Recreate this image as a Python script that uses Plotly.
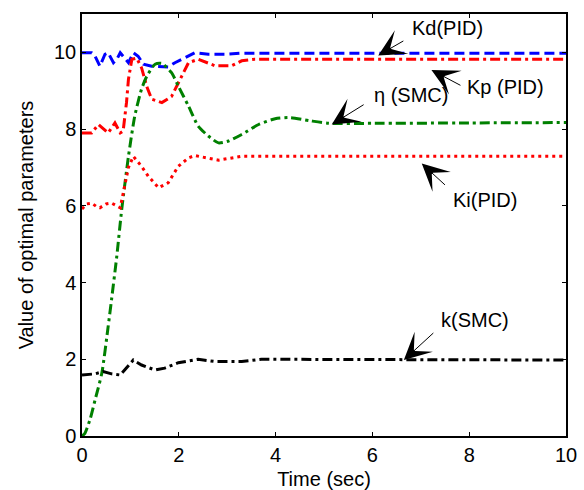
import plotly.graph_objects as go

# ---- data ----
t_kd = [0, 0.20, 0.27, 0.37, 0.475, 0.54, 0.65, 0.72, 0.79, 0.89, 0.96, 1.06, 1.16, 1.27, 1.44, 1.78, 1.92, 2.13, 2.33, 2.61, 2.95, 3.30, 4.0, 10]
kd = [9.99, 9.99, 9.90, 9.64, 9.95, 9.99, 9.73, 9.82, 9.99, 9.82, 9.73, 9.99, 9.90, 9.69, 9.64, 9.62, 9.73, 9.86, 9.99, 9.95, 9.95, 9.98, 9.98, 9.98]

t_kp = [0, 0.20, 0.34, 0.44, 0.54, 0.68, 0.79, 0.85, 0.92, 0.96, 1.03, 1.13, 1.23, 1.34, 1.44, 1.65, 1.85, 1.99, 2.20, 2.40, 2.75, 3.09, 3.30, 3.57, 10]
kp = [7.90, 7.90, 8.12, 8.00, 7.90, 8.16, 7.90, 7.95, 8.70, 9.30, 9.82, 9.85, 9.60, 9.10, 8.78, 8.69, 8.85, 9.20, 9.73, 9.82, 9.65, 9.65, 9.78, 9.82, 9.82]

t_eta = [0, 0.06, 0.17, 0.27, 0.41, 0.54, 0.61, 0.72, 0.82, 0.96, 1.09, 1.23, 1.34, 1.51, 1.65, 1.85, 1.99, 2.20, 2.40, 2.61, 2.82, 3.03, 3.30, 3.65, 3.99, 4.30, 4.70, 5.10, 6.00, 8.00, 10]
eta = [0, 0.07, 0.45, 0.94, 1.64, 2.85, 3.55, 4.70, 5.90, 7.29, 8.34, 9.04, 9.38, 9.69, 9.71, 9.47, 9.12, 8.60, 8.08, 7.82, 7.64, 7.69, 7.86, 8.12, 8.27, 8.30, 8.22, 8.15, 8.15, 8.16, 8.17]

t_ki = [0, 0.10, 0.20, 0.30, 0.37, 0.50, 0.61, 0.72, 0.79, 0.96, 1.06, 1.23, 1.37, 1.58, 1.78, 1.99, 2.20, 2.33, 2.82, 3.30, 10]
ki = [5.92, 6.05, 6.07, 5.98, 5.95, 6.05, 6.07, 6.00, 5.95, 7.00, 7.29, 7.03, 6.77, 6.47, 6.60, 7.03, 7.25, 7.31, 7.19, 7.29, 7.29]

t_k = [0, 0.27, 0.44, 0.61, 0.79, 0.92, 1.06, 1.23, 1.51, 1.71, 1.99, 2.40, 2.75, 3.30, 3.71, 10]
k = [1.59, 1.62, 1.68, 1.62, 1.59, 1.77, 1.98, 1.85, 1.72, 1.77, 1.91, 2.00, 1.94, 1.94, 2.00, 1.98]

x_ticks = [0, 2, 4, 6, 8, 10]
y_ticks = [0, 2, 4, 6, 8, 10]

# annotation labels: (text, text_x, text_y, head_x, head_y, tail_x, tail_y)
labels = [
    ("Kd(PID)", 7.55, 10.63, 6.12, 9.92, 6.67, 10.32),
    ("Kp (PID)", 8.76, 9.11, 7.22, 9.54, 7.85, 9.12),
    ("\u03b7 (SMC)", 6.80, 8.89, 5.16, 8.12, 5.85, 8.66),
    ("Ki(PID)", 8.33, 6.14, 7.02, 7.10, 7.53, 6.51),
    ("k(SMC)", 8.13, 3.03, 6.65, 1.98, 7.29, 2.72),
]

FONT = "Liberation Sans, Arial, sans-serif"

fig = go.Figure()
fig.add_trace(go.Scatter(x=t_kd, y=kd, mode="lines", name="Kd(PID)",
                         line=dict(color="#0000FF", width=3, dash="10px,5px")))
fig.add_trace(go.Scatter(x=t_kp, y=kp, mode="lines", name="Kp(PID)",
                         line=dict(color="#FF0000", width=3, dash="10px,4px,3px,4px")))
fig.add_trace(go.Scatter(x=t_eta, y=eta, mode="lines", name="eta(SMC)",
                         line=dict(color="#008000", width=3, dash="10px,4px,3px,4px", shape="spline", smoothing=0.6)))
fig.add_trace(go.Scatter(x=t_ki, y=ki, mode="lines", name="Ki(PID)",
                         line=dict(color="#FF0000", width=3, dash="3px,4px")))
fig.add_trace(go.Scatter(x=t_k, y=k, mode="lines", name="k(SMC)",
                         line=dict(color="#000000", width=3, dash="10px,4px,3px,4px")))

for text, tx, ty, hx, hy, ax, ay in labels:
    fig.add_annotation(x=tx, y=ty, text=text, showarrow=False,
                       font=dict(family=FONT, size=20, color="black"),
                       xanchor="center", yanchor="middle")
    fig.add_annotation(x=hx, y=hy, ax=ax, ay=ay, axref="x", ayref="y",
                       text="", showarrow=True, arrowhead=3, arrowsize=4.5,
                       arrowwidth=1, arrowcolor="black")

axis_common = dict(showline=True, linecolor="black", linewidth=1.5, mirror="allticks",
                   ticks="inside", ticklen=4, tickcolor="black", showgrid=False,
                   zeroline=False, tickfont=dict(family=FONT, size=20, color="black"))

fig.update_xaxes(range=[0, 10], tickvals=x_ticks,
                 title=dict(text="Time (sec)", font=dict(family=FONT, size=20, color="black"), standoff=8),
                 **axis_common)
fig.update_yaxes(range=[0, 11], tickvals=y_ticks,
                 title=dict(text="Value of optimal parameters", font=dict(family=FONT, size=20, color="black"), standoff=15),
                 **axis_common)

fig.update_layout(width=584, height=490, showlegend=False,
                  margin=dict(l=82, r=18, t=14, b=54, autoexpand=False),
                  paper_bgcolor="white", plot_bgcolor="white")

fig.write_html("out.html")
